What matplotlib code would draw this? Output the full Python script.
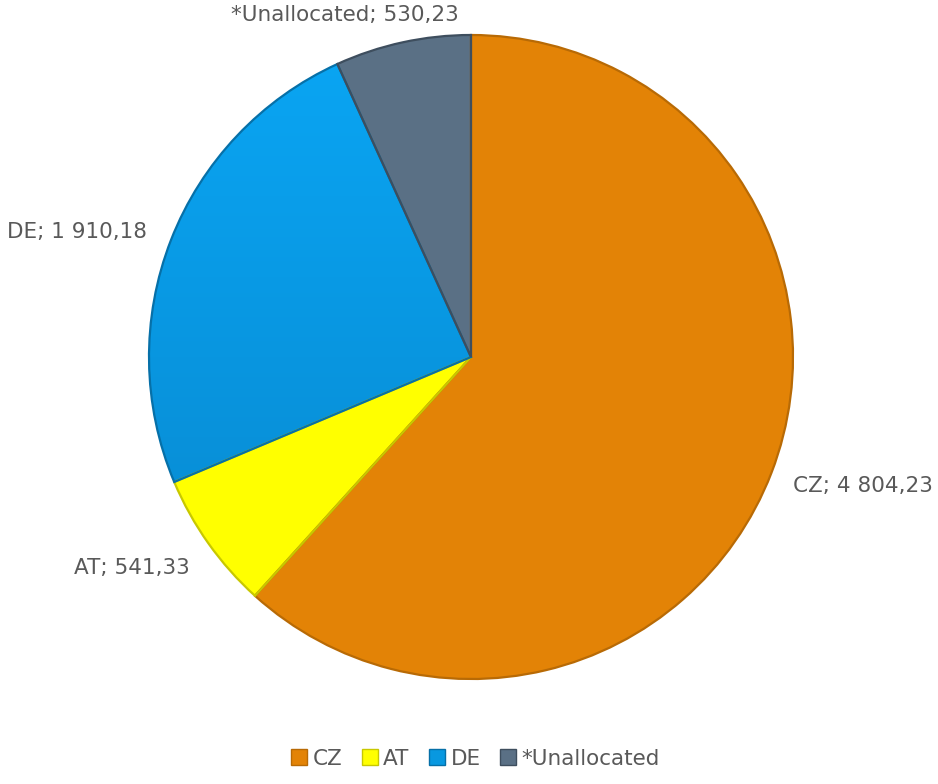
import numpy as np
import matplotlib.pyplot as plt
from matplotlib.patches import Wedge
from matplotlib.colors import LinearSegmentedColormap

regions = ['CZ', 'AT', 'DE', '*Unallocated']
amounts = [4804.23, 541.33, 1910.18, 530.23]
amount_labels = ['4 804,23', '541,33', '1 910,18', '530,23']
colors = ['#E38306', '#FFFF00', '#0898E0', '#5A7085']
edge_colors = ['#B86A05', '#C8C800', '#0670A8', '#3E4E5E']

W, H = 938, 784
fig = plt.figure(figsize=(W / 100, H / 100), dpi=100)
ax = fig.add_axes([0, 0, 1, 1])

cx, cy, r = 471, H - 357, 322

wedges, _ = ax.pie(amounts, colors=colors, startangle=90, counterclock=False,
                   center=(cx, cy), radius=r, frame=True,
                   wedgeprops=dict(edgecolor='none'))
ax.set_xlim(0, W)
ax.set_ylim(0, H)
ax.set_aspect('equal')
ax.axis('off')

# soft vertical shading inside the blue wedge
de = wedges[2]
cmap = LinearSegmentedColormap.from_list('de', ['#0786CC', '#0AA6F4'])
grad = np.linspace(0, 1, 256).reshape(-1, 1)
img = ax.imshow(grad, cmap=cmap, origin='lower', aspect='auto',
                extent=(cx - r, cx + r, cy - r, cy + r), zorder=2)
img.set_clip_path(de)

# darker outlines give each slice a bevelled rim
for w, ec in zip(wedges, edge_colors):
    ax.add_patch(Wedge(w.center, w.r, w.theta1, w.theta2, fill=False,
                       edgecolor=ec, linewidth=1.6, zorder=5))

label_kw = dict(fontsize=15.5, color='#595959', family='DejaVu Sans')
ax.text(793, H - 486, f'{regions[0]}; {amount_labels[0]}', ha='left', va='center', **label_kw)
ax.text(190, H - 568, f'{regions[1]}; {amount_labels[1]}', ha='right', va='center', **label_kw)
ax.text(147, H - 232, f'{regions[2]}; {amount_labels[2]}', ha='right', va='center', **label_kw)
ax.text(345, H - 15, f'{regions[3]}; {amount_labels[3]}', ha='center', va='center', **label_kw)

leg = fig.legend(wedges, regions, loc='lower center', bbox_to_anchor=(0.507, -0.005),
                 ncol=4, frameon=False, handlelength=0.75, handleheight=0.75,
                 handletextpad=0.25, columnspacing=0.9,
                 prop=dict(family='DejaVu Sans', size=15.5))
for t in leg.get_texts():
    t.set_color('#595959')
for h, ec in zip(leg.legend_handles, edge_colors):
    h.set_edgecolor(ec)
    h.set_linewidth(1)

fig.savefig('out.png', dpi=100)
